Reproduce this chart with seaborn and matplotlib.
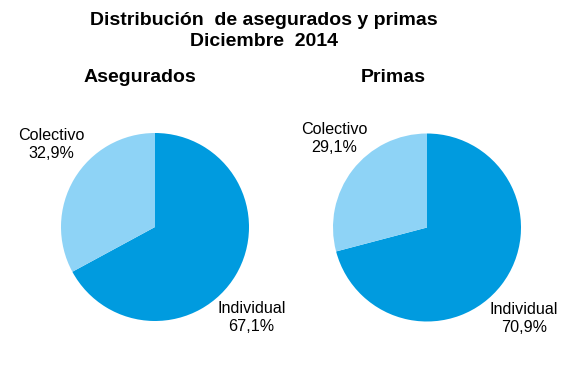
import matplotlib
matplotlib.use("Agg")
import matplotlib.pyplot as plt
import seaborn as sns

# datos
categorias = ["Individual", "Colectivo"]
asegurados = [67.1, 32.9]
primas = [70.9, 29.1]
etiquetas_aseg = ["67,1%", "32,9%"]
etiquetas_prim = ["70,9%", "29,1%"]

sns.set_theme(style="white")
plt.rcParams["font.family"] = ["Liberation Sans", "DejaVu Sans"]
plt.rcParams["text.color"] = "black"

colores = ["#009BDF", "#8ED3F6"]

W, H = 568, 378
fig = plt.figure(figsize=(W / 100, H / 100), dpi=100)


def pie_ax(cx, cy, r):
    return fig.add_axes([(cx - r) / W, (H - cy - r) / H, 2 * r / W, 2 * r / H])


def dibujar(ax, valores, etiquetas, pos_ind, pos_col):
    ax.pie(valores, colors=colores, startangle=90, counterclock=False,
           wedgeprops=dict(linewidth=0))
    ax.set_xlim(-1, 1)
    ax.set_ylim(-1, 1)
    ax.set_aspect("equal")
    ax.axis("off")
    ax.text(pos_ind[0], pos_ind[1], f"{categorias[0]}\n{etiquetas[0]}",
            transform=ax.transAxes, ha="center", va="center", fontsize=11.6,
            linespacing=1.25, color="black")
    ax.text(pos_col[0], pos_col[1], f"{categorias[1]}\n{etiquetas[1]}",
            transform=ax.transAxes, ha="center", va="center", fontsize=11.6,
            linespacing=1.25, color="black")


ax1 = pie_ax(155, 227, 94)
dibujar(ax1, asegurados, etiquetas_aseg, (1.013, 0.02), (-0.05, 0.94))

ax2 = pie_ax(427, 227.5, 94)
dibujar(ax2, primas, etiquetas_prim, (1.016, 0.016), (0.005, 0.976))

fig.text(264 / W, 1 - 31 / H, "Distribución  de asegurados y primas\nDiciembre  2014",
         ha="center", va="center", fontsize=14, fontweight="bold", linespacing=1.3)
fig.text(140 / W, 1 - 78 / H, "Asegurados", ha="center", va="center",
         fontsize=14, fontweight="bold")
fig.text(393 / W, 1 - 78 / H, "Primas", ha="center", va="center",
         fontsize=14, fontweight="bold")

fig.savefig("out.png", dpi=100, facecolor="white")
